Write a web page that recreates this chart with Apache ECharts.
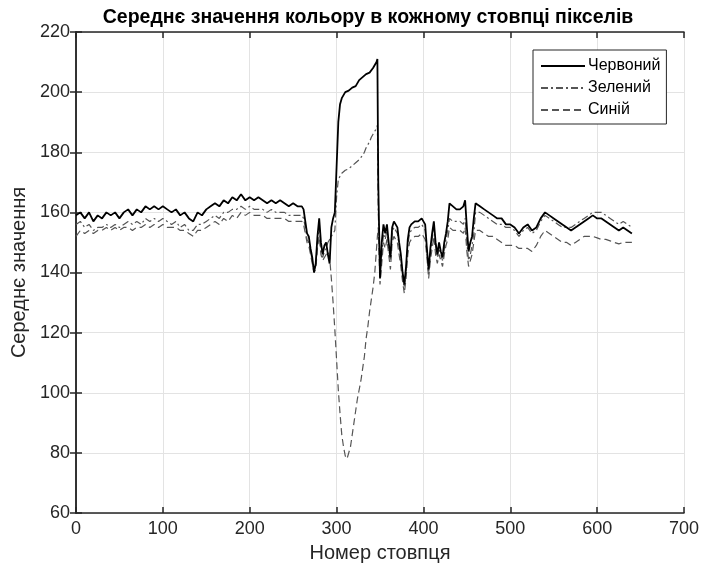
<!doctype html>
<html>
<head>
<meta charset="utf-8">
<title>Середнє значення кольору</title>
<script src="https://cdn.jsdelivr.net/npm/echarts@6/dist/echarts.min.js"></script>
<style>
  html, body { margin: 0; padding: 0; background: #fff; }
  #container { width: 703px; height: 576px; }
</style>
</head>
<body>
<div id="container"></div>
<script type="text/javascript">
// номер стовпця
var cols = [
  0,5,10,15,20,25,30,35,40,45,
  50,55,60,65,70,75,80,85,90,95,
  100,105,110,115,120,125,130,135,140,145,
  150,155,160,165,170,175,180,185,190,195,
  200,205,210,215,220,225,230,235,240,245,
  250,255,260,262,264,266,268,270,272,274,
  276,278,280,282,284,286,288,290,292,294,
  296,298,300,302,304,306,308,310,312,314,
  316,318,320,322,324,326,328,330,332,334,
  336,338,340,342,344,346,347,348,350,352,
  354,356,358,360,362,364,366,368,370,372,
  374,376,378,380,382,384,386,390,394,398,
  402,404,406,408,410,412,414,416,418,420,
  422,424,426,428,430,434,438,442,446,448,
  450,452,454,456,458,460,465,470,475,480,
  485,490,495,500,505,510,515,520,525,530,
  535,540,545,550,555,560,565,570,575,580,
  585,590,595,600,605,610,615,620,625,630,
  635,640
];
// червоний канал
var red = [
  159,160,158,160,157,159,158,160,159,160,
  158,160,161,159,161,160,162,161,162,161,
  162,161,160,161,159,160,158,157,160,159,
  161,162,163,162,164,163,165,164,166,164,
  165,164,165,164,163,164,163,164,163,162,
  163,162,162,161,157,153,152,148,145,140,
  143,152,158,150,146,149,150,146,143,155,
  158,160,175,190,196,198,199,200,200,200.5,
  201,201.5,202,202,203,204,204,205,205.5,206,
  206,206.5,207,208,208.5,210,211,170,138,150,
  156,153,156,150,145,155,157,156,155,150,
  146,140,136,142,151,155,156,157,157,158,
  156,148,141,148,153,157,150,146,150,147,
  145,150,153,157,163,162,161,161,162,164,
  155,147,150,152,158,163,162,161,160,159,
  158,158,156,156,155,153,155,156,154,155,
  158,160,159,158,157,156,155,154,155,156,
  157,158,159,158,158,157,156,155,154,155,
  154,153
];
// зелений канал
var green = [
  156,157,155,156,154,155,155,156,155,156,
  155,156,157,156,157,156,158,157,158,157,
  158,157,156,157,155,156,154,154,156,156,
  157,158,159,158,160,160,161,161,162,161,
  162,161,161,161,160,161,160,160,160,159,
  159,159,159,158,155,151,150,147,144,141,
  142,150,155,148,145,147,148,150,151,152,
  152,154,165,171,172,173,173.5,174,174,174.5,
  175,175.5,176,176.5,177,177.5,178,179,180,181.5,
  182.5,183.5,185,186,187,188,189,160,140,145,
  153,151,154,148,144,153,155,154,153,149,
  145,139,135,140,149,153,154,155,155,156,
  154,147,140,146,151,155,149,145,148,146,
  144,148,151,154,158,157,157,157,156,158,
  150,144,146,149,153,160,160,159,158,157,
  156,156,155,155,154,152,154,155,153,154,
  157,159,158,157,156,155,155,155,156,157,
  158,159,160,160,160,159,158,157,156,157,
  156,155
];
// синій канал
var blue = [
  152,154,153,154,153,154,154,155,154,155,
  154,155,155,154,155,155,156,155,156,155,
  156,155,155,155,154,154,153,152,154,154,
  155,156,157,156,158,157,159,158,160,159,
  160,159,159,159,158,158,158,158,158,157,
  157,157,157,156,153,150,149,146,143,140,
  141,148,152,146,144,145,146,147,145,138,
  130,121,111,101,93,86,82,79,78,80,
  82,86,90,94,98,101,104,108,112,118,
  122,127,131,135,140,148,152,155,136,143,
  150,148,151,146,141,150,152,151,150,146,
  142,137,133,138,146,150,151,152,152,153,
  151,145,138,144,148,152,146,143,146,144,
  142,146,149,151,155,154,154,154,153,155,
  147,142,144,146,150,154,154,153,152,152,
  151,150,149,149,149,148,148,148,147,149,
  152,154,153,152,151,150,150,149,150,151,
  152,152,152,151.5,151,151,150.5,150,149.5,150,
  150,150
];
var xTicks = [0, 700, 100];
var yTicks = [60, 220, 20];

function pairs(arr) {
    return cols.map(function (c, i) { return [c, arr[i]]; });
}

var font = 'Liberation Sans, Arial, sans-serif';
var axisColor = '#262626';

var myChart = echarts.init(document.getElementById('container'), null, { renderer: 'canvas' });
var option = {
    animation: false,
    backgroundColor: '#fff',
    title: {
        text: 'Середнє значення кольору в кожному стовпці пікселів',
        left: 363, top: 3, textAlign: 'center',
        textStyle: { fontFamily: font, fontSize: 19.5, fontWeight: 'bold', color: '#000' }
    },
    legend: {
        orient: 'vertical',
        left: 533, top: 50,
        padding: [8, 6, 6, 7],
        itemWidth: 44, itemHeight: 14, itemGap: 6,
        backgroundColor: '#fff',
        borderColor: '#262626', borderWidth: 1,
        itemStyle: { opacity: 0 },
        textStyle: { fontFamily: font, fontSize: 16, color: '#000', padding: [0, 0, 0, -2] },
        data: ['Червоний', 'Зелений', 'Синій']
    },
    grid: { left: 76, right: 19, top: 32, bottom: 63 },
    xAxis: [{
        type: 'value', min: xTicks[0], max: xTicks[1], interval: xTicks[2],
        name: 'Номер стовпця', nameLocation: 'middle', nameGap: 30,
        nameTextStyle: { fontFamily: font, fontSize: 20, color: '#262626' },
        axisLine: { show: true, lineStyle: { color: axisColor, width: 1.5 } },
        axisTick: { show: true, inside: true, length: 6, lineStyle: { color: axisColor, width: 1.5 } },
        axisLabel: { margin: 7, fontFamily: font, fontSize: 18, color: '#262626' },
        splitLine: { show: true, lineStyle: { color: '#e3e3e3', width: 1 } }
    }, {
        type: 'value', position: 'top', min: xTicks[0], max: xTicks[1], interval: xTicks[2],
        axisLine: { show: true, lineStyle: { color: axisColor, width: 1.5 } },
        axisTick: { show: true, inside: true, length: 6, lineStyle: { color: axisColor, width: 1.5 } },
        axisLabel: { show: false },
        splitLine: { show: false }
    }],
    yAxis: [{
        type: 'value', min: yTicks[0], max: yTicks[1], interval: yTicks[2],
        name: 'Середнє значення', nameLocation: 'middle', nameGap: 47,
        nameTextStyle: { fontFamily: font, fontSize: 20, color: '#262626' },
        axisLine: { show: true, lineStyle: { color: axisColor, width: 1.5 } },
        axisTick: { show: true, inside: true, length: 6, lineStyle: { color: axisColor, width: 1.5 } },
        axisLabel: { margin: 6, fontFamily: font, fontSize: 18, color: '#262626' },
        splitLine: { show: true, lineStyle: { color: '#e3e3e3', width: 1 } }
    }, {
        type: 'value', position: 'right', min: yTicks[0], max: yTicks[1], interval: yTicks[2],
        axisLine: { show: true, lineStyle: { color: axisColor, width: 1.5 } },
        axisTick: { show: true, inside: true, length: 6, lineStyle: { color: axisColor, width: 1.5 } },
        axisLabel: { show: false },
        splitLine: { show: false }
    }],
    series: [
        {
            name: 'Червоний', type: 'line', symbol: 'none', data: pairs(red),
            lineStyle: { color: '#000', width: 1.8, type: 'solid' },
            itemStyle: { color: '#000' }, z: 4
        },
        {
            name: 'Зелений', type: 'line', symbol: 'none', data: pairs(green),
            lineStyle: { color: '#555', width: 1.2, type: [7, 3, 2, 3] },
            itemStyle: { color: '#555' }, z: 3
        },
        {
            name: 'Синій', type: 'line', symbol: 'none', data: pairs(blue),
            lineStyle: { color: '#555', width: 1.2, type: [7, 4] },
            itemStyle: { color: '#555' }, z: 2
        }
    ]
};
myChart.setOption(option);
</script>
</body>
</html>
